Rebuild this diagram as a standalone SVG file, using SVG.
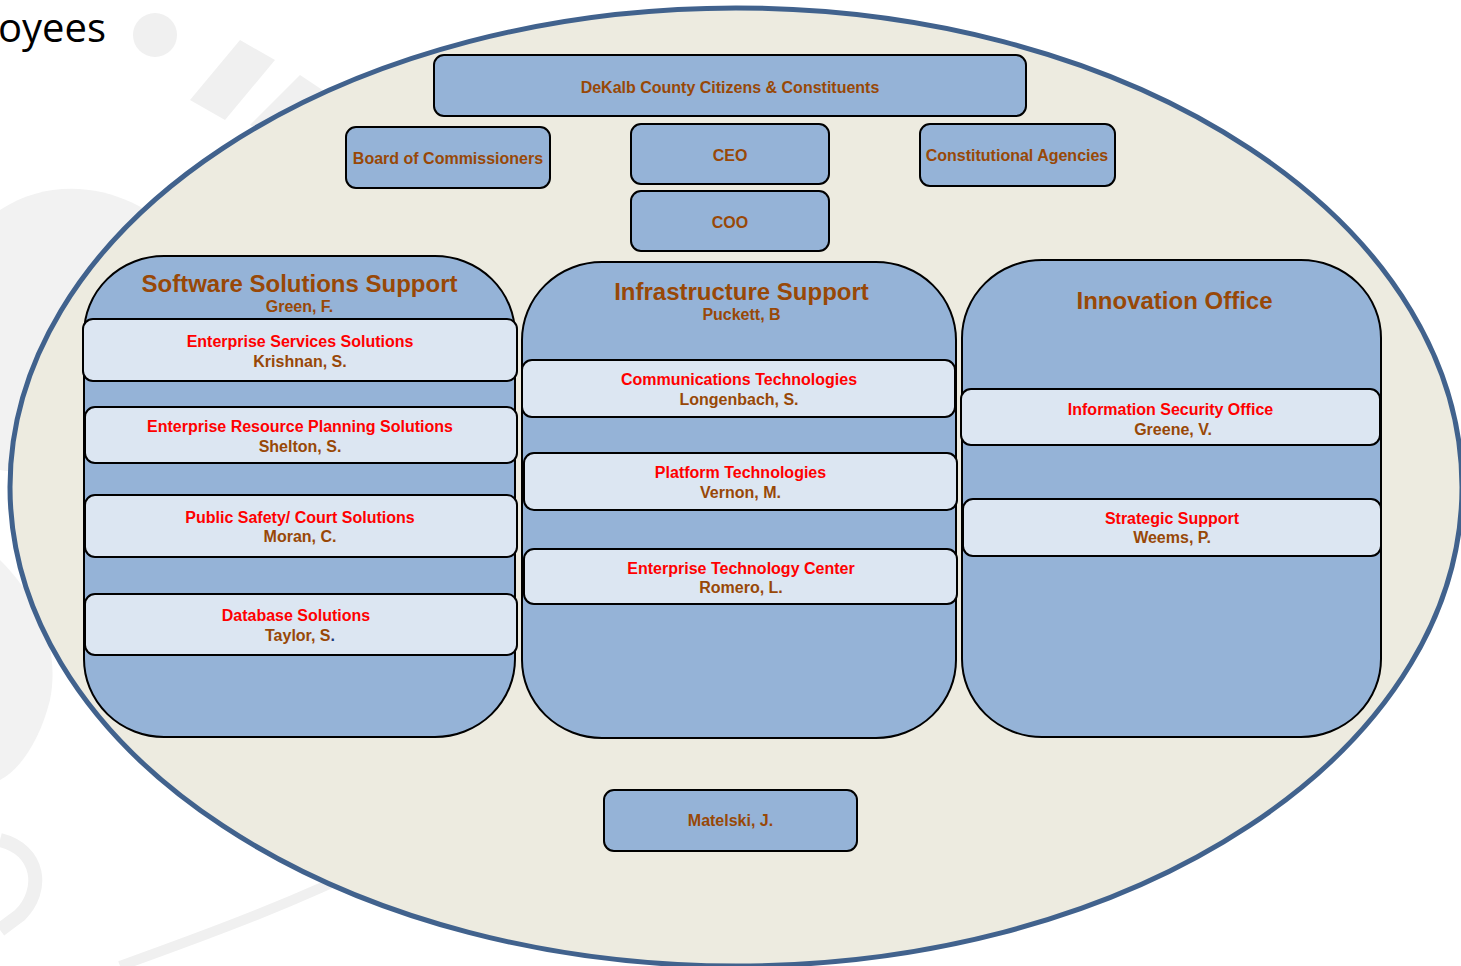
<svg xmlns="http://www.w3.org/2000/svg" width="1461" height="966" viewBox="0 0 1461 966">
<style>
.t{font-family:"Liberation Sans",Arial,sans-serif;font-weight:bold;text-anchor:middle}
.b{fill:#984807;font-size:16px}
.r{fill:#ff0000;font-size:16px}
.h{fill:#984807;font-size:24px}
.box{fill:#95b3d7;stroke:#000;stroke-width:2}
.sub{fill:#dce6f2;stroke:#000;stroke-width:2}
.wm{fill:none;stroke:#f0f0f0}
</style>
<rect width="1461" height="966" fill="#fff"/>
<g id="watermark">
<circle cx="155" cy="35" r="22" fill="#f0f0f0"/>
<path d="M190 100 L240 40 L275 60 L225 120 Z" fill="#f0f0f0"/>
<path d="M250 125 L300 75 L330 95 L280 140 Z" fill="#f0f0f0"/>
<path d="M0 210 C60 170 140 190 180 240 C210 300 190 380 150 430 C110 470 60 480 0 470 Z" fill="#f2f2f2"/>
<path d="M0 560 C40 600 60 650 50 700 C40 740 20 770 0 780 Z" fill="#f2f2f2"/>
<path d="M0 840 C40 850 45 890 20 915 L0 930" class="wm" stroke-width="14"/>
<path d="M120 966 C220 930 300 900 380 860" class="wm" stroke-width="10"/>
</g>
<text x="-2" y="42" font-family="'Open Sans',sans-serif" font-size="40" fill="#000">oyees</text>
<ellipse id="frame" cx="736" cy="487" rx="726" ry="479" fill="#edebe0" stroke="#41628d" stroke-width="5"/>
<g id="connectors"></g>
<g id="citizens"><rect class="box" x="434" y="55" width="592" height="61" rx="10"/><text class="t b" x="730" y="92.5">DeKalb County Citizens &amp; Constituents</text></g>
<g id="board"><rect class="box" x="346" y="127" width="204" height="61" rx="10"/><text class="t b" x="448" y="163.5">Board of Commissioners</text></g>
<g id="ceo"><rect class="box" x="631" y="124" width="198" height="60" rx="10"/><text class="t b" x="730" y="160.5">CEO</text></g>
<g id="coo"><rect class="box" x="631" y="191" width="198" height="60" rx="10"/><text class="t b" x="730" y="227.5">COO</text></g>
<g id="agencies"><rect class="box" x="920" y="124" width="195" height="62" rx="10"/><text class="t b" x="1017" y="160.5">Constitutional Agencies</text></g>
<g id="software">
<rect class="box" x="84" y="256" width="431" height="481" rx="80" ry="78"/>
<text class="t h" x="299.5" y="291.5">Software Solutions Support</text>
<text class="t b" x="299.5" y="311.5">Green, F.</text>
</g>
<g id="ess"><rect class="sub" x="83" y="319" width="434" height="62" rx="10"/><text class="t r" x="300" y="346.5">Enterprise Services Solutions</text><text class="t b" x="300" y="366.5">Krishnan, S.</text></g>
<g id="erp"><rect class="sub" x="85" y="407" width="432" height="56" rx="10"/><text class="t r" x="300" y="431.5">Enterprise Resource Planning Solutions</text><text class="t b" x="300" y="451.5">Shelton, S.</text></g>
<g id="psc"><rect class="sub" x="85" y="495" width="432" height="62" rx="10"/><text class="t r" x="300" y="522.5">Public Safety/ Court Solutions</text><text class="t b" x="300" y="541.5">Moran, C.</text></g>
<g id="db"><rect class="sub" x="85" y="594" width="432" height="61" rx="10"/><text class="t r" x="296" y="620.5">Database Solutions</text><text class="t b" x="300" y="640.5">Taylor, S<tspan fill="#1f3a7a">.</tspan></text></g>
<g id="infra">
<rect class="box" x="522" y="262" width="434" height="476" rx="80" ry="78"/>
<text class="t h" x="741.5" y="299.5">Infrastructure Support</text>
<text class="t b" x="741.5" y="319.5">Puckett, B</text>
</g>
<g id="comm"><rect class="sub" x="522" y="360" width="433" height="57" rx="10"/><text class="t r" x="739" y="384.5">Communications Technologies</text><text class="t b" x="739" y="404.5">Longenbach, S.</text></g>
<g id="platform"><rect class="sub" x="524" y="453" width="433" height="57" rx="10"/><text class="t r" x="740.5" y="477.5">Platform Technologies</text><text class="t b" x="740.5" y="497.5">Vernon, M.</text></g>
<g id="etc"><rect class="sub" x="524" y="549" width="433" height="55" rx="10"/><text class="t r" x="741" y="573.5">Enterprise Technology Center</text><text class="t b" x="741" y="592.5">Romero, L.</text></g>
<g id="innovation">
<rect class="box" x="962" y="260" width="419" height="477" rx="80" ry="78"/>
<text class="t h" x="1174.5" y="308.5">Innovation Office</text>
</g>
<g id="iso"><rect class="sub" x="961" y="389" width="419" height="56" rx="10"/><text class="t r" x="1170.5" y="414.5">Information Security Office</text><text class="t b" x="1173" y="434.5">Greene, V.</text></g>
<g id="strategic"><rect class="sub" x="963" y="499" width="418" height="57" rx="10"/><text class="t r" x="1172" y="523.5">Strategic Support</text><text class="t b" x="1172" y="542.5">Weems, P.</text></g>
<g id="matelski"><rect class="box" x="604" y="790" width="253" height="61" rx="10"/><text class="t b" x="730.5" y="826">Matelski, J.</text></g>
</svg>
